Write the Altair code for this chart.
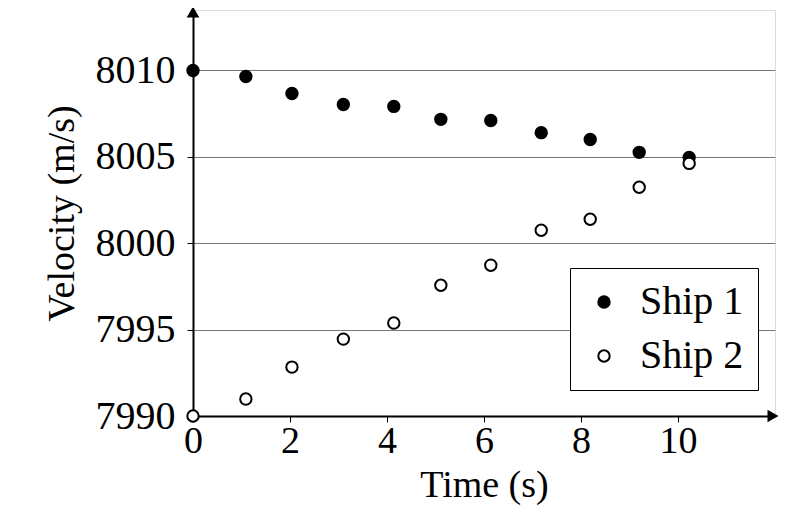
import altair as alt
import pandas as pd

time_s = [0, 1.09, 2.04, 3.1, 4.14, 5.11, 6.14, 7.18, 8.19, 9.2, 10.23]
ship1 = [8010, 8009.65, 8008.67, 8008.03, 8007.92, 8007.17, 8007.1, 8006.4, 8006.0, 8005.26, 8004.97]
ship2 = [7990, 7990.98, 7992.83, 7994.45, 7995.38, 7997.57, 7998.73, 8000.75, 8001.39, 8003.24, 8004.62]

df = pd.DataFrame({
    'Time': time_s * 2,
    'Velocity': ship1 + ship2,
    'Ship': ['Ship 1'] * len(ship1) + ['Ship 2'] * len(ship2),
})

font = 'Liberation Serif'

points = alt.Chart(df).mark_point(size=130, strokeWidth=2, stroke='black', opacity=1, clip=False).encode(
    x=alt.X('Time:Q', title='Time (s)', scale=alt.Scale(domain=[0, 12], nice=False),
            axis=alt.Axis(values=[0, 2, 4, 6, 8, 10], grid=False, tickSize=6, tickColor='black',
                          domainColor='black', domainWidth=2, labelFontSize=38, titleFontSize=38,
                          titleFontWeight='normal', labelPadding=0, titlePadding=6,
                          labelColor='black', titleColor='black', labelFlush=False)),
    y=alt.Y('Velocity:Q', title='Velocity (m/s)', scale=alt.Scale(domain=[7990, 8013.5], nice=False, zero=False),
            axis=alt.Axis(values=[7990, 7995, 8000, 8005, 8010], format='d', grid=True, gridColor='#777',
                          tickSize=6, tickColor='black', domainColor='black', domainWidth=2,
                          labelFontSize=40, titleFontSize=38, titleFontWeight='normal',
                          labelPadding=12, titlePadding=14,
                          labelColor='black', titleColor='black', labelFlush=False)),
    fill=alt.Fill('Ship:N', scale=alt.Scale(domain=['Ship 1', 'Ship 2'], range=['black', 'white']),
                  legend=alt.Legend(title=None, orient='none', legendX=377, legendY=258,
                                    strokeColor='black', fillColor='white', padding=14,
                                    labelFontSize=40, labelFont=font, labelColor='black',
                                    symbolType='circle', symbolSize=130, symbolStrokeColor='black',
                                    symbolStrokeWidth=2, rowPadding=14, labelOffset=16)),
)

arrow_up = alt.Chart(pd.DataFrame({'a': [0]})).mark_point(shape='triangle-up', size=160, filled=True, color='black', opacity=1).encode(
    x=alt.value(0), y=alt.value(2))
arrow_right = alt.Chart(pd.DataFrame({'a': [0]})).mark_point(shape='triangle-right', size=160, filled=True, color='black', opacity=1).encode(
    x=alt.value(580), y=alt.value(406))

chart = (points + arrow_up + arrow_right).properties(
    width=582, height=406, autosize='none',
    padding={'left': 185, 'top': 2, 'right': 22, 'bottom': 100},
).configure_view(strokeWidth=0).configure(font=font)

chart.save("out.html", embed_options={"renderer": "svg", "actions": False})
